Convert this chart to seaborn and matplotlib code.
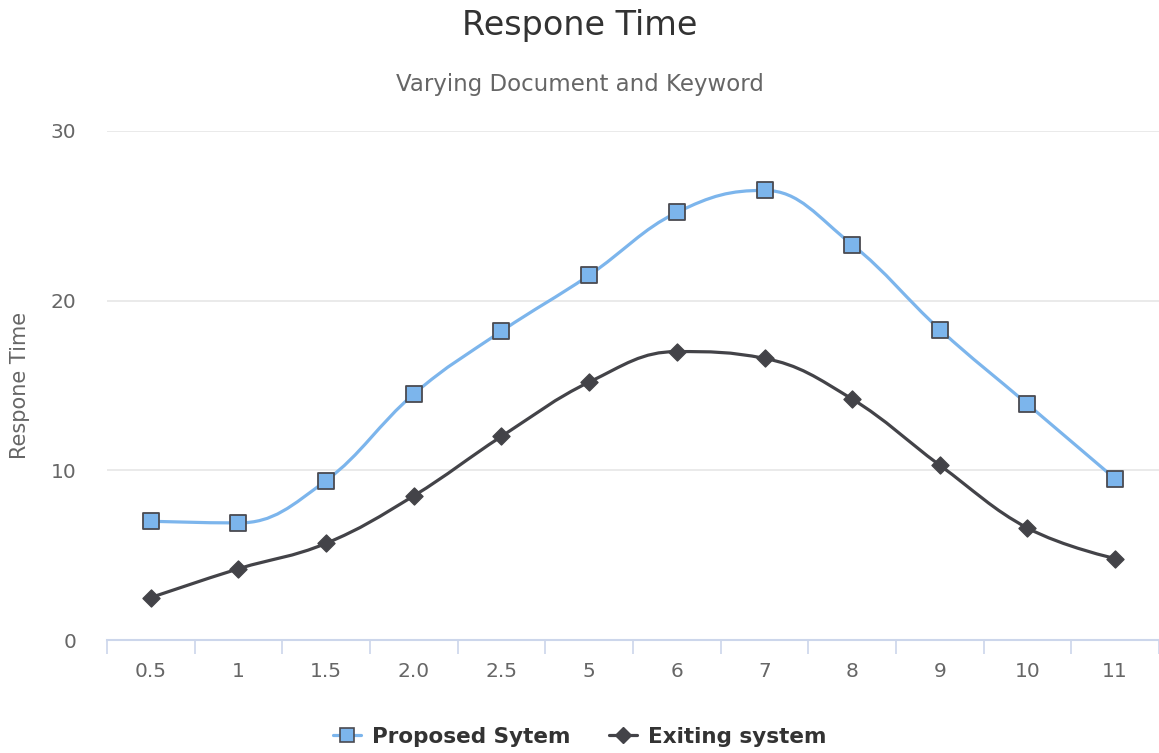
import numpy as np
import pandas as pd
import seaborn as sns
import matplotlib.pyplot as plt
from matplotlib.path import Path
from matplotlib.patches import PathPatch
from matplotlib.lines import Line2D

# data
categories = ['0.5', '1', '1.5', '2.0', '2.5', '5', '6', '7', '8', '9', '10', '11']
proposed = [7.0, 6.9, 9.4, 14.5, 18.2, 21.5, 25.2, 26.5, 23.3, 18.3, 13.9, 9.5]
existing = [2.5, 4.2, 5.7, 8.5, 12.0, 15.2, 17.0, 16.6, 14.2, 10.3, 6.6, 4.8]
series_names = ['Proposed Sytem', 'Exiting system']
colors = ['#7cb5ec', '#434348']


def spline_path(xs, ys, smoothing=1.5):
    # smooth curve through the points, same idea as a highcharts spline
    n = len(xs)
    left = [None] * n
    right = [None] * n
    for i in range(1, n - 1):
        x, y = xs[i], ys[i]
        lx = (smoothing * x + xs[i - 1]) / (smoothing + 1)
        ly = (smoothing * y + ys[i - 1]) / (smoothing + 1)
        rx = (smoothing * x + xs[i + 1]) / (smoothing + 1)
        ry = (smoothing * y + ys[i + 1]) / (smoothing + 1)
        corr = (ry - ly) * (rx - x) / (rx - lx) + y - ry
        ly += corr
        ry += corr
        if ly > ys[i - 1] and ly > y:
            ly = max(ys[i - 1], y)
            ry = 2 * y - ly
        elif ly < ys[i - 1] and ly < y:
            ly = min(ys[i - 1], y)
            ry = 2 * y - ly
        if ry > ys[i + 1] and ry > y:
            ry = max(ys[i + 1], y)
            ly = 2 * y - ry
        elif ry < ys[i + 1] and ry < y:
            ry = min(ys[i + 1], y)
            ly = 2 * y - ry
        left[i] = (lx, ly)
        right[i] = (rx, ry)
    verts = [(xs[0], ys[0])]
    codes = [Path.MOVETO]
    for i in range(1, n):
        c1 = right[i - 1] if right[i - 1] else (xs[i - 1], ys[i - 1])
        c2 = left[i] if left[i] else (xs[i], ys[i])
        verts += [c1, c2, (xs[i], ys[i])]
        codes += [Path.CURVE4] * 3
    return Path(verts, codes)


sns.set_style('white')
plt.rcParams['font.family'] = ['DejaVu Sans']

pos = np.arange(len(categories))
df = pd.DataFrame({
    'pos': np.concatenate([pos, pos]),
    'value': proposed + existing,
    'series': [series_names[0]] * len(pos) + [series_names[1]] * len(pos),
})

fig = plt.figure(figsize=(11.59, 7.53), dpi=100)
ax = fig.add_axes([107 / 1159, 113 / 753, 1052 / 1159, 509 / 753])

for name, vals, col in zip(series_names, [proposed, existing], colors):
    ax.add_patch(PathPatch(spline_path(pos, vals), facecolor='none',
                           edgecolor=col, lw=2.3, zorder=2))

sns.scatterplot(data=df[df.series == series_names[0]], x='pos', y='value',
                marker='s', color=colors[0], s=140, edgecolor='#4a4a50',
                linewidth=1.3, legend=False, zorder=3, ax=ax)
sns.scatterplot(data=df[df.series == series_names[1]], x='pos', y='value',
                marker='D', color=colors[1], s=75, edgecolor='#434348',
                linewidth=1.0, legend=False, zorder=3, ax=ax)

ax.set_xlim(-0.5, len(categories) - 0.5)
ax.set_ylim(0, 30)
ax.set_yticks([0, 10, 20, 30])
ax.set_xticks(pos)
ax.set_xticklabels(categories)
ax.set_xticks(np.arange(-0.5, len(categories), 1), minor=True)
ax.grid(axis='y', color='#e6e6e6', lw=1.2)
ax.set_axisbelow(True)
for s in ['top', 'right', 'left']:
    ax.spines[s].set_visible(False)
ax.spines['bottom'].set_color('#ccd6eb')
ax.spines['bottom'].set_linewidth(1.5)
ax.tick_params(axis='x', which='major', bottom=False, length=0, pad=16,
               labelsize=14.5, labelcolor='#666666')
ax.tick_params(axis='x', which='minor', bottom=True, length=10, width=1.2,
               color='#ccd6eb')
ax.tick_params(axis='y', length=0, pad=22, labelsize=14.5, labelcolor='#666666')
ax.set_xlabel('')
ax.set_ylabel('')

fig.text(0.5, 1 - 26 / 753, 'Respone Time', ha='center', va='center',
         fontsize=24, color='#333333')
fig.text(0.5, 1 - 84 / 753, 'Varying Document and Keyword', ha='center', va='center',
         fontsize=16.5, color='#666666')
fig.text(20 / 1159, 1 - 385 / 753, 'Respone Time', ha='center', va='center',
         rotation=90, fontsize=15, color='#666666')

handles = [
    Line2D([], [], color=colors[0], lw=2.3, marker='s', markersize=10.5,
           markerfacecolor=colors[0], markeredgecolor='#4a4a50', markeredgewidth=1.2),
    Line2D([], [], color=colors[1], lw=2.3, marker='D', markersize=8,
           markerfacecolor=colors[1], markeredgecolor=colors[1]),
]
fig.legend(handles, series_names, loc='center', bbox_to_anchor=(0.5, 1 - 737 / 753),
           ncol=2, frameon=False, handlelength=1.3, columnspacing=1.8, handletextpad=0.5,
           prop={'weight': 'bold', 'size': 15.5}, labelcolor='#333333')

fig.savefig('out.png', dpi=100)
